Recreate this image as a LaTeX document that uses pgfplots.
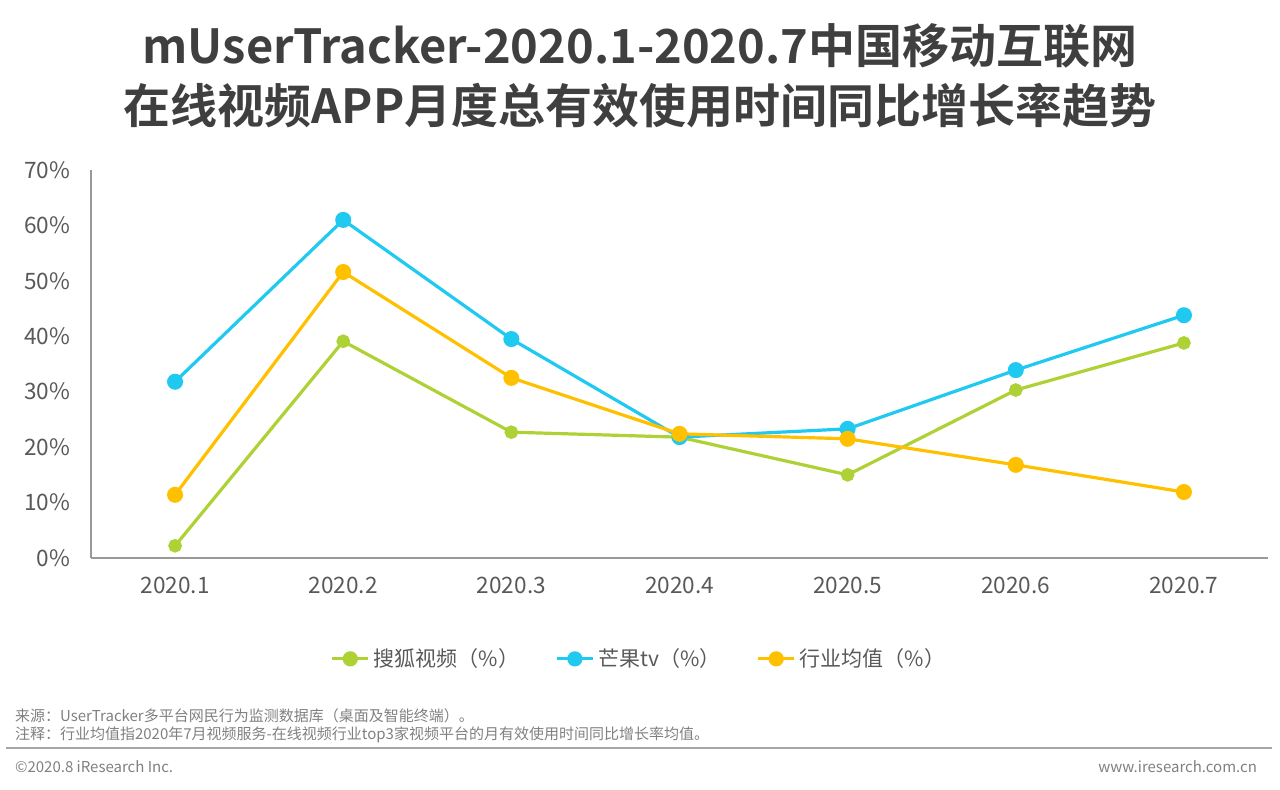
\documentclass[border=0pt]{standalone}
\usepackage{fontspec}
\setmainfont{Noto Sans CJK SC}
\newfontfamily\titlefont{Noto Sans CJK SC Bold}
\usepackage{pgfplots}
\pgfplotsset{compat=1.18}
\definecolor{cgreen}{HTML}{AED136}
\definecolor{cblue}{HTML}{1FC9F0}
\definecolor{corange}{HTML}{FFC000}
\definecolor{ctxt}{HTML}{595959}
\definecolor{ctitle}{HTML}{3F3F3F}
\definecolor{cfoot}{HTML}{808080}
\begin{document}
\begin{tikzpicture}
\useasboundingbox (0,0) rectangle (640pt,395pt);
\node[anchor=center,text=ctitle,font=\titlefont\fontsize{23.5pt}{27pt}\selectfont] at (320pt,372pt) {mUserTracker-2020.1-2020.7中国移动互联网};
\node[anchor=center,text=ctitle,font=\titlefont\fontsize{23.5pt}{27pt}\selectfont] at (320pt,342pt) {在线视频APP月度总有效使用时间同比增长率趋势};
\begin{axis}[
  at={(45.5pt,116pt)}, anchor=south west,
  width=588.5pt, height=194pt, scale only axis,
  xmin=-0.5, xmax=6.5, ymin=0, ymax=70,
  xtick={0,...,6},
  xticklabels={2020.1,2020.2,2020.3,2020.4,2020.5,2020.6,2020.7},
  ytick={0,10,...,70},
  yticklabel={\pgfmathprintnumber{\tick}\%},
  /pgf/number format/assume math mode=true,
  axis x line*=bottom, axis y line*=left,
  axis line style={draw=gray!80, line width=0.7pt},
  tick style={draw=none},
  ticklabel style={font=\fontsize{11.3pt}{13pt}\selectfont, text=ctxt},
  xticklabel style={yshift=-6pt},
  yticklabel style={xshift=-7pt},
  legend style={at={(0.4664,-0.26)}, anchor=center, draw=none, fill=none,
    legend columns=3, font=\fontsize{10.5pt}{12pt}\selectfont, text=ctxt,
    /tikz/every even column/.append style={column sep=16pt}},
  legend image code/.code={
    \draw[#1, mark=none] (0pt,0pt) -- (18pt,0pt);
    \fill[#1] (9pt,0pt) circle (3pt);
  },
  clip=false,
]
\addplot[cgreen, line width=1.6pt, mark=*, mark size=2.6pt, mark options={fill=cgreen, draw=cgreen}]
 coordinates {(0,2.2) (1,39.1) (2,22.7) (3,21.8) (4,15.0) (5,30.3) (6,38.8)};
\addlegendentry{搜狐视频（\%）}
\addplot[cblue, line width=1.6pt, mark=*, mark size=3.2pt, mark options={fill=cblue, draw=cblue}]
 coordinates {(0,31.8) (1,61.0) (2,39.5) (3,21.8) (4,23.3) (5,33.9) (6,43.8)};
\addlegendentry{芒果tv（\%）}
\addplot[corange, line width=1.6pt, mark=*, mark size=3.2pt, mark options={fill=corange, draw=corange}]
 coordinates {(0,11.4) (1,51.6) (2,32.5) (3,22.4) (4,21.5) (5,16.8) (6,11.9)};
\addlegendentry{行业均值（\%）}
\end{axis}
\node[anchor=west,text=cfoot,font=\fontsize{7.5pt}{9pt}\selectfont] at (4pt,37pt) {来源：UserTracker多平台网民行为监测数据库（桌面及智能终端）。};
\node[anchor=west,text=cfoot,font=\fontsize{7.5pt}{9pt}\selectfont] at (4pt,27.5pt) {注释：行业均值指2020年7月视频服务-在线视频行业top3家视频平台的月有效使用时间同比增长率均值。};
\draw[gray!70, line width=1pt] (3pt,21pt) -- (636pt,21pt);
\node[anchor=west,text=cfoot,font=\fontsize{7.5pt}{9pt}\selectfont] at (4pt,11.5pt) {©2020.8 iResearch Inc.};
\node[anchor=east,text=cfoot,font=\fontsize{7.5pt}{9pt}\selectfont] at (632pt,11.5pt) {www.iresearch.com.cn};
\end{tikzpicture}
\end{document}
